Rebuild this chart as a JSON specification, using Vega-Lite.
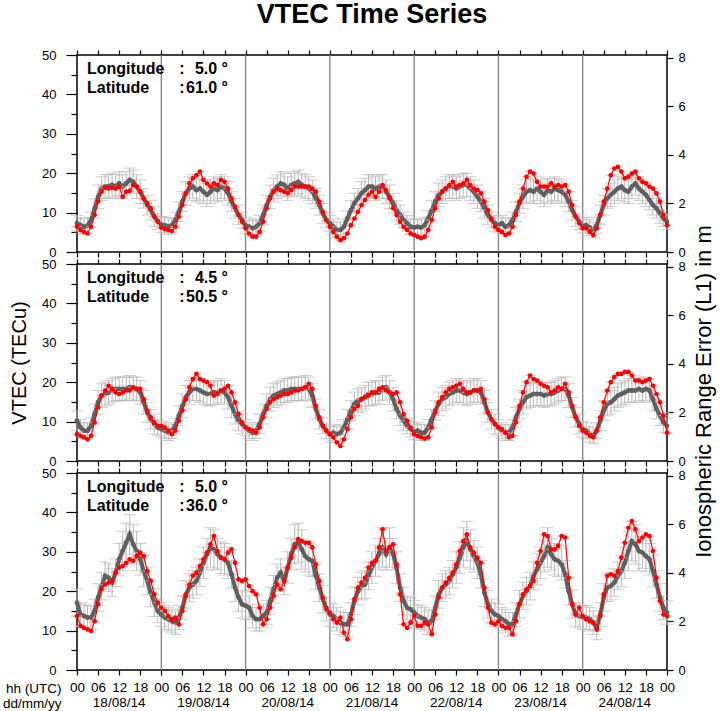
{
"$schema":"https://vega.github.io/schema/vega-lite/v6.json",
"padding":{"left":1,"right":2,"top":0,"bottom":0},
"spacing":12,
"bounds":"flush",
"config":{"view":{"stroke":"black","strokeWidth":1.5},"axis":{"labelFont":"Liberation Sans","labelFontSize":13,"labelColor":"black","tickColor":"black","tickWidth":1.2,"titleFont":"Liberation Sans","titleFontWeight":"normal","titleColor":"black","domain":false,"grid":false,"labelOverlap":false},"text":{"font":"Liberation Sans","color":"black"}},
"datasets":{
"days":[{"t":24},{"t":48},{"t":72},{"t":96},{"t":120},{"t":144}],
"dates":[{"t":12,"d":"18/08/14"},{"t":36,"d":"19/08/14"},{"t":60,"d":"20/08/14"},{"t":84,"d":"21/08/14"},{"t":108,"d":"22/08/14"},{"t":132,"d":"23/08/14"},{"t":156,"d":"24/08/14"}],
"A":[{"t":0,"g":7.3,"r":6.5,"e":2},{"t":1,"g":6.8,"r":5.6,"e":2},{"t":2,"g":6.4,"r":5.1,"e":2},{"t":3,"g":6.7,"r":4.7,"e":2},{"t":4,"g":8.1,"r":6.4,"e":2},{"t":5,"g":11,"r":9.4,"e":2.5},{"t":6,"g":14,"r":12.8,"e":3},{"t":7,"g":16.1,"r":15.3,"e":3},{"t":8,"g":16.6,"r":16.3,"e":3},{"t":9,"g":16.7,"r":16.1,"e":3},{"t":10,"g":17,"r":16.3,"e":3},{"t":11,"g":16.6,"r":16.1,"e":3},{"t":12,"g":17.4,"r":16.6,"e":3},{"t":13,"g":16.6,"r":14,"e":3},{"t":14,"g":17.4,"r":15.3,"e":3},{"t":15,"g":18.3,"r":15.5,"e":3},{"t":16,"g":17.8,"r":17,"e":3},{"t":17,"g":16.6,"r":16.6,"e":3},{"t":18,"g":15.3,"r":15.3,"e":3},{"t":19,"g":13.6,"r":13.6,"e":2.5},{"t":20,"g":11.9,"r":12.4,"e":2.5},{"t":21,"g":10.6,"r":11.1,"e":2.5},{"t":22,"g":9,"r":9,"e":2.5},{"t":23,"g":7.8,"r":7.7,"e":2},{"t":24,"g":7,"r":6.2,"e":2},{"t":25,"g":6.8,"r":5.8,"e":2},{"t":26,"g":6.4,"r":5.6,"e":2},{"t":27,"g":6.8,"r":5.3,"e":2},{"t":28,"g":8.1,"r":6.4,"e":2},{"t":29,"g":10.2,"r":9,"e":2.5},{"t":30,"g":12.8,"r":11.9,"e":2.5},{"t":31,"g":14.9,"r":14.9,"e":3},{"t":32,"g":16.1,"r":17.4,"e":3},{"t":33,"g":16.6,"r":18.7,"e":3},{"t":34,"g":15.7,"r":19.5,"e":3},{"t":35,"g":16.1,"r":20.4,"e":3},{"t":36,"g":15.3,"r":18.3,"e":3},{"t":37,"g":14.5,"r":17.4,"e":3},{"t":38,"g":15.3,"r":16.6,"e":3},{"t":39,"g":16.1,"r":17.4,"e":3},{"t":40,"g":15.7,"r":17,"e":3},{"t":41,"g":16.6,"r":18.3,"e":3},{"t":42,"g":16.1,"r":17.8,"e":3},{"t":43,"g":14.9,"r":16.1,"e":3},{"t":44,"g":12.8,"r":13.6,"e":2.5},{"t":45,"g":11.1,"r":11.5,"e":2.5},{"t":46,"g":9.4,"r":9.4,"e":2.5},{"t":47,"g":8.1,"r":7.7,"e":2},{"t":48,"g":6.8,"r":6,"e":2},{"t":49,"g":6.4,"r":4.7,"e":2},{"t":50,"g":6,"r":3.9,"e":2},{"t":51,"g":6.4,"r":3.9,"e":2},{"t":52,"g":7.3,"r":5.1,"e":2},{"t":53,"g":9.4,"r":7.7,"e":2.5},{"t":54,"g":11.9,"r":11.1,"e":2.5},{"t":55,"g":14,"r":13.6,"e":3},{"t":56,"g":15.7,"r":15.3,"e":3},{"t":57,"g":16.6,"r":16.1,"e":3},{"t":58,"g":17.4,"r":15.7,"e":3},{"t":59,"g":17,"r":15.3,"e":3},{"t":60,"g":16.1,"r":14.9,"e":3},{"t":61,"g":17,"r":15.7,"e":3},{"t":62,"g":17.4,"r":16.6,"e":3},{"t":63,"g":17.8,"r":16.6,"e":3},{"t":64,"g":17,"r":16.6,"e":3},{"t":65,"g":16.6,"r":16.6,"e":3},{"t":66,"g":16.1,"r":16.6,"e":3},{"t":67,"g":15.3,"r":16.1,"e":3},{"t":68,"g":13.6,"r":15.3,"e":2.5},{"t":69,"g":11.9,"r":12.8,"e":2.5},{"t":70,"g":9.8,"r":10.2,"e":2.5},{"t":71,"g":8.1,"r":8.1,"e":2},{"t":72,"g":7.3,"r":6.4,"e":2},{"t":73,"g":6.4,"r":5.1,"e":2},{"t":74,"g":5.6,"r":3.9,"e":2},{"t":75,"g":5.6,"r":3,"e":2},{"t":76,"g":6.4,"r":3.5,"e":2},{"t":77,"g":8.5,"r":4.7,"e":2},{"t":78,"g":10.6,"r":6.8,"e":2.5},{"t":79,"g":12.4,"r":8.5,"e":2.5},{"t":80,"g":13.6,"r":10.2,"e":2.5},{"t":81,"g":14.9,"r":11.9,"e":3},{"t":82,"g":15.7,"r":13.2,"e":3},{"t":83,"g":16.6,"r":14.5,"e":3},{"t":84,"g":16.6,"r":15.3,"e":3},{"t":85,"g":16.1,"r":14,"e":3},{"t":86,"g":16.6,"r":15.3,"e":3},{"t":87,"g":16.6,"r":17,"e":3},{"t":88,"g":15.3,"r":15.7,"e":3},{"t":89,"g":14,"r":13.6,"e":3},{"t":90,"g":12.4,"r":11.1,"e":2.5},{"t":91,"g":10.6,"r":9.4,"e":2.5},{"t":92,"g":9.4,"r":7.7,"e":2.5},{"t":93,"g":8.1,"r":6.4,"e":2},{"t":94,"g":7.3,"r":5.6,"e":2},{"t":95,"g":6.4,"r":4.7,"e":2},{"t":96,"g":6.2,"r":4.3,"e":2},{"t":97,"g":6.4,"r":3.9,"e":2},{"t":98,"g":6.2,"r":3.5,"e":2},{"t":99,"g":6.8,"r":3.9,"e":2},{"t":100,"g":8.5,"r":5.6,"e":2},{"t":101,"g":10.6,"r":8.1,"e":2.5},{"t":102,"g":12.8,"r":11.1,"e":2.5},{"t":103,"g":14.5,"r":13.6,"e":3},{"t":104,"g":15.3,"r":15.3,"e":3},{"t":105,"g":16.1,"r":16.1,"e":3},{"t":106,"g":16.6,"r":17,"e":3},{"t":107,"g":16.6,"r":17.8,"e":3},{"t":108,"g":16.1,"r":16.6,"e":3},{"t":109,"g":16.6,"r":17,"e":3},{"t":110,"g":17,"r":17.4,"e":3},{"t":111,"g":17,"r":18.3,"e":3},{"t":112,"g":16.1,"r":17,"e":3},{"t":113,"g":15.3,"r":16.1,"e":3},{"t":114,"g":14,"r":15.7,"e":3},{"t":115,"g":12.8,"r":14.9,"e":2.5},{"t":116,"g":11.1,"r":12.8,"e":2.5},{"t":117,"g":9.4,"r":10.6,"e":2.5},{"t":118,"g":8.1,"r":8.5,"e":2},{"t":119,"g":7.3,"r":6.4,"e":2},{"t":120,"g":6.8,"r":5.6,"e":2},{"t":121,"g":7.3,"r":5.1,"e":2},{"t":122,"g":6.4,"r":4.3,"e":2},{"t":123,"g":6.8,"r":4.7,"e":2},{"t":124,"g":8.1,"r":6.4,"e":2},{"t":125,"g":10.2,"r":9.4,"e":2.5},{"t":126,"g":12.4,"r":12.8,"e":2.5},{"t":127,"g":14,"r":16.1,"e":3},{"t":128,"g":15.3,"r":19.1,"e":3},{"t":129,"g":15.7,"r":20.4,"e":3},{"t":130,"g":15.3,"r":19.9,"e":3},{"t":131,"g":16.1,"r":17.8,"e":3},{"t":132,"g":15.3,"r":16.6,"e":3},{"t":133,"g":14.5,"r":16.6,"e":3},{"t":134,"g":15.7,"r":16.6,"e":3},{"t":135,"g":15.3,"r":17.4,"e":3},{"t":136,"g":16.1,"r":16.6,"e":3},{"t":137,"g":15.7,"r":17,"e":3},{"t":138,"g":15.3,"r":16.6,"e":3},{"t":139,"g":14.5,"r":17,"e":3},{"t":140,"g":12.8,"r":15.3,"e":2.5},{"t":141,"g":10.6,"r":11.9,"e":2.5},{"t":142,"g":9,"r":9,"e":2.5},{"t":143,"g":7.7,"r":7.3,"e":2},{"t":144,"g":6.8,"r":6,"e":2},{"t":145,"g":6.8,"r":6,"e":2},{"t":146,"g":6.2,"r":5.1,"e":2},{"t":147,"g":5.6,"r":4.3,"e":2},{"t":148,"g":6.8,"r":6,"e":2},{"t":149,"g":9.4,"r":9.4,"e":2.5},{"t":150,"g":11.9,"r":12.8,"e":2.5},{"t":151,"g":13.6,"r":16.1,"e":2.5},{"t":152,"g":14.5,"r":19.5,"e":3},{"t":153,"g":15.3,"r":21.2,"e":3},{"t":154,"g":16.1,"r":21.6,"e":3},{"t":155,"g":16.6,"r":20.4,"e":3},{"t":156,"g":15.7,"r":18.7,"e":3},{"t":157,"g":15.3,"r":19.1,"e":3},{"t":158,"g":16.6,"r":19.9,"e":3},{"t":159,"g":17.4,"r":20.4,"e":3},{"t":160,"g":16.1,"r":18.7,"e":3},{"t":161,"g":15.3,"r":17.8,"e":3},{"t":162,"g":14.5,"r":17.4,"e":3},{"t":163,"g":13.2,"r":16.6,"e":2.5},{"t":164,"g":11.9,"r":16.1,"e":2.5},{"t":165,"g":11.1,"r":14.9,"e":2.5},{"t":166,"g":9.8,"r":12.8,"e":2.5},{"t":167,"g":8.5,"r":9.4,"e":2},{"t":168,"g":7.7,"r":6.8,"e":2}],
"B":[{"t":0,"g":10.2,"r":6.8,"e":2.5},{"t":1,"g":8.5,"r":6.4,"e":2},{"t":2,"g":7.7,"r":6,"e":2},{"t":3,"g":7.7,"r":5.5,"e":2},{"t":4,"g":8.9,"r":6.4,"e":2},{"t":5,"g":11.9,"r":9.8,"e":2.5},{"t":6,"g":14.9,"r":13.6,"e":3},{"t":7,"g":16.6,"r":16.6,"e":3},{"t":8,"g":17,"r":17.9,"e":3},{"t":9,"g":17.4,"r":19.1,"e":3},{"t":10,"g":17.9,"r":18.3,"e":3},{"t":11,"g":18.3,"r":17.4,"e":3},{"t":12,"g":18.3,"r":17,"e":3},{"t":13,"g":18.3,"r":17.4,"e":3},{"t":14,"g":18.3,"r":17.9,"e":3},{"t":15,"g":18.7,"r":17.9,"e":3},{"t":16,"g":18.3,"r":18.7,"e":3},{"t":17,"g":18.3,"r":18.3,"e":3},{"t":18,"g":17.4,"r":18.3,"e":3},{"t":19,"g":14.9,"r":15.7,"e":3},{"t":20,"g":12.3,"r":12.8,"e":2.5},{"t":21,"g":10.6,"r":11.1,"e":2.5},{"t":22,"g":9.4,"r":9.8,"e":2.5},{"t":23,"g":8.5,"r":8.9,"e":2},{"t":24,"g":8.1,"r":8.9,"e":2},{"t":25,"g":7.7,"r":8.5,"e":2},{"t":26,"g":7.2,"r":7.7,"e":2},{"t":27,"g":7.7,"r":6.8,"e":2},{"t":28,"g":8.9,"r":7.7,"e":2},{"t":29,"g":11.5,"r":10.2,"e":2.5},{"t":30,"g":14,"r":12.8,"e":3},{"t":31,"g":16.2,"r":15.7,"e":3},{"t":32,"g":17.4,"r":18.7,"e":3},{"t":33,"g":18.3,"r":20.8,"e":3},{"t":34,"g":18.3,"r":22.1,"e":3},{"t":35,"g":17.9,"r":20.8,"e":3},{"t":36,"g":17.4,"r":20.4,"e":3},{"t":37,"g":17,"r":20,"e":3},{"t":38,"g":17,"r":19.1,"e":3},{"t":39,"g":17.4,"r":16.6,"e":3},{"t":40,"g":17.4,"r":17,"e":3},{"t":41,"g":17.9,"r":17.9,"e":3},{"t":42,"g":17.4,"r":18.3,"e":3},{"t":43,"g":16.2,"r":19.1,"e":3},{"t":44,"g":14,"r":17.4,"e":3},{"t":45,"g":11.9,"r":14.9,"e":2.5},{"t":46,"g":10.2,"r":11.9,"e":2.5},{"t":47,"g":9.4,"r":9.8,"e":2.5},{"t":48,"g":8.5,"r":8.5,"e":2},{"t":49,"g":7.7,"r":8.1,"e":2},{"t":50,"g":7.2,"r":7.7,"e":2},{"t":51,"g":7.7,"r":7.2,"e":2},{"t":52,"g":9.4,"r":8.5,"e":2.5},{"t":53,"g":11.9,"r":11.1,"e":2.5},{"t":54,"g":14,"r":13.2,"e":3},{"t":55,"g":15.7,"r":14.9,"e":3},{"t":56,"g":16.6,"r":15.7,"e":3},{"t":57,"g":17,"r":16.2,"e":3},{"t":58,"g":17.4,"r":16.6,"e":3},{"t":59,"g":17.9,"r":17,"e":3},{"t":60,"g":17.9,"r":17,"e":3},{"t":61,"g":18.3,"r":17.4,"e":3},{"t":62,"g":18.3,"r":17.9,"e":3},{"t":63,"g":18.3,"r":17.9,"e":3},{"t":64,"g":18.3,"r":18.3,"e":3},{"t":65,"g":18.7,"r":18.7,"e":3},{"t":66,"g":18.3,"r":19.6,"e":3},{"t":67,"g":16.6,"r":18.3,"e":3},{"t":68,"g":13.2,"r":14,"e":2.5},{"t":69,"g":10.6,"r":11.1,"e":2.5},{"t":70,"g":8.9,"r":8.9,"e":2},{"t":71,"g":7.7,"r":7.7,"e":2},{"t":72,"g":6.8,"r":6.8,"e":2},{"t":73,"g":7.2,"r":6,"e":2},{"t":74,"g":6.8,"r":4.7,"e":2},{"t":75,"g":7.2,"r":3.8,"e":2},{"t":76,"g":8.5,"r":5.5,"e":2},{"t":77,"g":10.6,"r":8.1,"e":2.5},{"t":78,"g":12.8,"r":11.1,"e":2.5},{"t":79,"g":14.5,"r":13.2,"e":3},{"t":80,"g":15.3,"r":14,"e":3},{"t":81,"g":15.7,"r":15.7,"e":3},{"t":82,"g":16.2,"r":16.2,"e":3},{"t":83,"g":17,"r":16.6,"e":3},{"t":84,"g":17,"r":17.4,"e":3},{"t":85,"g":17.4,"r":17.4,"e":3},{"t":86,"g":17.4,"r":18.3,"e":3},{"t":87,"g":18.3,"r":18.7,"e":3},{"t":88,"g":18.7,"r":17.9,"e":3},{"t":89,"g":17.4,"r":17.4,"e":3},{"t":90,"g":15.7,"r":17,"e":3},{"t":91,"g":13.2,"r":17.4,"e":2.5},{"t":92,"g":11.5,"r":14.9,"e":2.5},{"t":93,"g":10.2,"r":11.9,"e":2.5},{"t":94,"g":8.9,"r":10.2,"e":2},{"t":95,"g":8.1,"r":8.5,"e":2},{"t":96,"g":7.4,"r":6.8,"e":2},{"t":97,"g":7.7,"r":6.4,"e":2},{"t":98,"g":7.2,"r":6,"e":2},{"t":99,"g":7.2,"r":5.7,"e":2},{"t":100,"g":8.5,"r":6,"e":2},{"t":101,"g":10.6,"r":8.5,"e":2.5},{"t":102,"g":12.8,"r":12.3,"e":2.5},{"t":103,"g":14.5,"r":14.9,"e":3},{"t":104,"g":15.7,"r":16.2,"e":3},{"t":105,"g":16.2,"r":17.4,"e":3},{"t":106,"g":17,"r":18.3,"e":3},{"t":107,"g":17.4,"r":18.7,"e":3},{"t":108,"g":17.9,"r":19.1,"e":3},{"t":109,"g":17.9,"r":19.6,"e":3},{"t":110,"g":17.4,"r":18.3,"e":3},{"t":111,"g":17,"r":17.4,"e":3},{"t":112,"g":17.4,"r":17.4,"e":3},{"t":113,"g":17.9,"r":17.9,"e":3},{"t":114,"g":17.9,"r":17.9,"e":3},{"t":115,"g":17.4,"r":18.3,"e":3},{"t":116,"g":14.9,"r":15.7,"e":3},{"t":117,"g":12.3,"r":12.3,"e":2.5},{"t":118,"g":10.6,"r":10.6,"e":2.5},{"t":119,"g":9.4,"r":9.4,"e":2.5},{"t":120,"g":8.5,"r":8.5,"e":2},{"t":121,"g":7.7,"r":8.1,"e":2},{"t":122,"g":7.2,"r":7.2,"e":2},{"t":123,"g":7.2,"r":6,"e":2},{"t":124,"g":8.5,"r":6.4,"e":2},{"t":125,"g":11.1,"r":9.8,"e":2.5},{"t":126,"g":13.2,"r":14,"e":2.5},{"t":127,"g":14.9,"r":17.4,"e":3},{"t":128,"g":16.2,"r":20,"e":3},{"t":129,"g":16.6,"r":21.7,"e":3},{"t":130,"g":17,"r":20.8,"e":3},{"t":131,"g":17,"r":20.4,"e":3},{"t":132,"g":17,"r":19.6,"e":3},{"t":133,"g":16.6,"r":19.1,"e":3},{"t":134,"g":17,"r":18.7,"e":3},{"t":135,"g":17,"r":17.4,"e":3},{"t":136,"g":17.4,"r":17.9,"e":3},{"t":137,"g":17.9,"r":18.7,"e":3},{"t":138,"g":18.3,"r":18.3,"e":3},{"t":139,"g":18.3,"r":19.6,"e":3},{"t":140,"g":16.6,"r":17.4,"e":3},{"t":141,"g":13.6,"r":14,"e":2.5},{"t":142,"g":11.1,"r":11.1,"e":2.5},{"t":143,"g":9.4,"r":8.9,"e":2.5},{"t":144,"g":8.1,"r":7.7,"e":2},{"t":145,"g":7.7,"r":7.2,"e":2},{"t":146,"g":6.8,"r":6.4,"e":2},{"t":147,"g":6.4,"r":6,"e":2},{"t":148,"g":7.7,"r":7.7,"e":2},{"t":149,"g":10.2,"r":11.1,"e":2.5},{"t":150,"g":12.8,"r":14.9,"e":2.5},{"t":151,"g":14.5,"r":17.9,"e":3},{"t":152,"g":14.9,"r":20,"e":3},{"t":153,"g":15.7,"r":21.3,"e":3},{"t":154,"g":16.6,"r":22.1,"e":3},{"t":155,"g":17,"r":22.1,"e":3},{"t":156,"g":17.4,"r":22.6,"e":3},{"t":157,"g":17.9,"r":22.6,"e":3},{"t":158,"g":17.9,"r":21.7,"e":3},{"t":159,"g":17.9,"r":20.4,"e":3},{"t":160,"g":18.3,"r":20.4,"e":3},{"t":161,"g":17.9,"r":20,"e":3},{"t":162,"g":18.3,"r":20.4,"e":3},{"t":163,"g":17.9,"r":20.8,"e":3},{"t":164,"g":15.7,"r":19.1,"e":3},{"t":165,"g":13.2,"r":17,"e":2.5},{"t":166,"g":11.5,"r":14.9,"e":2.5},{"t":167,"g":9.8,"r":11.5,"e":2.5},{"t":168,"g":8.9,"r":7.2,"e":2}],
"C":[{"t":0,"g":17.1,"r":13.7,"e":3.5},{"t":1,"g":14.1,"r":11.2,"e":3},{"t":2,"g":13.7,"r":10.7,"e":3},{"t":3,"g":13.3,"r":10.3,"e":3},{"t":4,"g":13.3,"r":9.9,"e":3},{"t":5,"g":15,"r":12.4,"e":3},{"t":6,"g":18.4,"r":16.7,"e":3.5},{"t":7,"g":21.3,"r":20.5,"e":3.5},{"t":8,"g":23.9,"r":21.7,"e":3.5},{"t":9,"g":23.4,"r":22.2,"e":3.5},{"t":10,"g":22.2,"r":22.6,"e":3.5},{"t":11,"g":24.7,"r":24.7,"e":3.5},{"t":12,"g":28.1,"r":26,"e":4},{"t":13,"g":30.2,"r":26.4,"e":5},{"t":14,"g":32.3,"r":27.2,"e":5},{"t":15,"g":34.4,"r":28.1,"e":5},{"t":16,"g":31.9,"r":27.7,"e":5},{"t":17,"g":30.2,"r":28.9,"e":5},{"t":18,"g":28.1,"r":29.8,"e":4},{"t":19,"g":25.1,"r":28.9,"e":4},{"t":20,"g":22.6,"r":25.1,"e":3.5},{"t":21,"g":19.6,"r":22.6,"e":3.5},{"t":22,"g":17.1,"r":19.2,"e":3.5},{"t":23,"g":15,"r":17.1,"e":3},{"t":24,"g":14.1,"r":15.8,"e":3},{"t":25,"g":13.3,"r":15,"e":3},{"t":26,"g":12.9,"r":13.7,"e":3},{"t":27,"g":12.4,"r":12.9,"e":3},{"t":28,"g":12,"r":13.3,"e":3},{"t":29,"g":13.3,"r":11.6,"e":3},{"t":30,"g":15.8,"r":15,"e":3},{"t":31,"g":19.2,"r":18.8,"e":3.5},{"t":32,"g":20.9,"r":21.7,"e":3.5},{"t":33,"g":21.7,"r":23.9,"e":3.5},{"t":34,"g":22.6,"r":24.7,"e":3.5},{"t":35,"g":24.7,"r":26.4,"e":3.5},{"t":36,"g":27.2,"r":28.1,"e":4},{"t":37,"g":29.4,"r":29.8,"e":4},{"t":38,"g":31.1,"r":31.9,"e":5},{"t":39,"g":30.6,"r":34,"e":5},{"t":40,"g":29.4,"r":30.2,"e":4},{"t":41,"g":28.5,"r":28.5,"e":4},{"t":42,"g":28.1,"r":28.1,"e":4},{"t":43,"g":27.2,"r":29.8,"e":4},{"t":44,"g":24.3,"r":30.6,"e":3.5},{"t":45,"g":20.9,"r":27.2,"e":3.5},{"t":46,"g":18.4,"r":23,"e":3.5},{"t":47,"g":16.7,"r":22.6,"e":3.5},{"t":48,"g":16.3,"r":23,"e":3.5},{"t":49,"g":15.8,"r":21.3,"e":3},{"t":50,"g":13.7,"r":20,"e":3},{"t":51,"g":12.9,"r":19.2,"e":3},{"t":52,"g":12.9,"r":15.8,"e":3},{"t":53,"g":13.7,"r":11.6,"e":3},{"t":54,"g":14.6,"r":12.9,"e":3},{"t":55,"g":17.5,"r":15.8,"e":3.5},{"t":56,"g":20.5,"r":18.8,"e":3.5},{"t":57,"g":23.4,"r":21.7,"e":3.5},{"t":58,"g":24.7,"r":20.5,"e":3.5},{"t":59,"g":22.6,"r":22.6,"e":3.5},{"t":60,"g":26,"r":26,"e":4},{"t":61,"g":29.4,"r":28.5,"e":4},{"t":62,"g":31.9,"r":31.1,"e":5},{"t":63,"g":32.3,"r":33.2,"e":5},{"t":64,"g":30.6,"r":32.7,"e":5},{"t":65,"g":28.9,"r":32.3,"e":4},{"t":66,"g":28.1,"r":32.3,"e":4},{"t":67,"g":27.7,"r":31.1,"e":4},{"t":68,"g":23.9,"r":26.8,"e":3.5},{"t":69,"g":20.9,"r":22.6,"e":3.5},{"t":70,"g":18,"r":18.4,"e":3.5},{"t":71,"g":15.4,"r":15.8,"e":3},{"t":72,"g":14.1,"r":14.6,"e":3},{"t":73,"g":13.7,"r":12.9,"e":3},{"t":74,"g":12.9,"r":12,"e":3},{"t":75,"g":12,"r":13.3,"e":3},{"t":76,"g":11.6,"r":9.5,"e":3},{"t":77,"g":11.6,"r":7.8,"e":3},{"t":78,"g":14.1,"r":12.9,"e":3},{"t":79,"g":17.5,"r":18,"e":3.5},{"t":80,"g":20,"r":20.9,"e":3.5},{"t":81,"g":21.3,"r":22.2,"e":3.5},{"t":82,"g":21.7,"r":23.4,"e":3.5},{"t":83,"g":23.9,"r":26,"e":3.5},{"t":84,"g":26,"r":27.2,"e":4},{"t":85,"g":27.7,"r":27.7,"e":4},{"t":86,"g":29.4,"r":31.1,"e":4},{"t":87,"g":31.1,"r":35.7,"e":5},{"t":88,"g":29.4,"r":30.2,"e":4},{"t":89,"g":31.1,"r":31.1,"e":5},{"t":90,"g":29.4,"r":31.9,"e":4},{"t":91,"g":26,"r":26.8,"e":4},{"t":92,"g":20.9,"r":19.2,"e":3.5},{"t":93,"g":17.5,"r":11.6,"e":3.5},{"t":94,"g":15.8,"r":10.7,"e":3},{"t":95,"g":15.4,"r":12,"e":3},{"t":96,"g":14.6,"r":13.7,"e":3},{"t":97,"g":13.7,"r":11.2,"e":3},{"t":98,"g":13.3,"r":11.2,"e":3},{"t":99,"g":12.9,"r":12,"e":3},{"t":100,"g":12,"r":11.6,"e":3},{"t":101,"g":12.4,"r":9.1,"e":3},{"t":102,"g":15.8,"r":14.1,"e":3},{"t":103,"g":19.2,"r":18.4,"e":3.5},{"t":104,"g":20.9,"r":20.9,"e":3.5},{"t":105,"g":21.7,"r":22.2,"e":3.5},{"t":106,"g":22.6,"r":23.4,"e":3.5},{"t":107,"g":24.3,"r":24.7,"e":3.5},{"t":108,"g":26,"r":26.8,"e":4},{"t":109,"g":28.5,"r":30.2,"e":4},{"t":110,"g":31.1,"r":32.7,"e":5},{"t":111,"g":32.7,"r":34.4,"e":5},{"t":112,"g":30.6,"r":31.1,"e":5},{"t":113,"g":28.9,"r":29.8,"e":4},{"t":114,"g":27.2,"r":28.5,"e":4},{"t":115,"g":24.3,"r":27.2,"e":3.5},{"t":116,"g":19.6,"r":20.9,"e":3.5},{"t":117,"g":16.7,"r":15.8,"e":3.5},{"t":118,"g":15,"r":12,"e":3},{"t":119,"g":14.1,"r":11.6,"e":3},{"t":120,"g":13.7,"r":12.4,"e":3},{"t":121,"g":12.9,"r":11.2,"e":3},{"t":122,"g":12.4,"r":10.7,"e":3},{"t":123,"g":11.6,"r":10.7,"e":3},{"t":124,"g":11.6,"r":9.1,"e":3},{"t":125,"g":14.1,"r":12.4,"e":3},{"t":126,"g":16.7,"r":16.7,"e":3.5},{"t":127,"g":18.8,"r":19.2,"e":3.5},{"t":128,"g":20,"r":20.5,"e":3.5},{"t":129,"g":21.3,"r":21.3,"e":3.5},{"t":130,"g":23.9,"r":22.6,"e":3.5},{"t":131,"g":25.6,"r":27.2,"e":4},{"t":132,"g":27.2,"r":30.2,"e":4},{"t":133,"g":28.9,"r":34.4,"e":4},{"t":134,"g":31.1,"r":34,"e":5},{"t":135,"g":29.4,"r":30.6,"e":4},{"t":136,"g":28.1,"r":30.6,"e":4},{"t":137,"g":27.7,"r":31.5,"e":4},{"t":138,"g":26.8,"r":34,"e":4},{"t":139,"g":24.3,"r":33.6,"e":3.5},{"t":140,"g":20,"r":23.4,"e":3.5},{"t":141,"g":16.7,"r":16.7,"e":3.5},{"t":142,"g":14.1,"r":14.1,"e":3},{"t":143,"g":13.7,"r":15.8,"e":3},{"t":144,"g":13.3,"r":13.7,"e":3},{"t":145,"g":13.3,"r":12.9,"e":3},{"t":146,"g":12.9,"r":12.4,"e":3},{"t":147,"g":12,"r":12,"e":3},{"t":148,"g":10.7,"r":10.3,"e":3},{"t":149,"g":14.1,"r":13.7,"e":3},{"t":150,"g":18.4,"r":19.2,"e":3.5},{"t":151,"g":20.9,"r":23.9,"e":3.5},{"t":152,"g":21.3,"r":24.3,"e":3.5},{"t":153,"g":22.2,"r":23.9,"e":3.5},{"t":154,"g":23.9,"r":25.1,"e":3.5},{"t":155,"g":25.1,"r":28.5,"e":4},{"t":156,"g":27.2,"r":32.3,"e":4},{"t":157,"g":30.2,"r":36.1,"e":5},{"t":158,"g":32.7,"r":37.8,"e":5},{"t":159,"g":31.9,"r":35.7,"e":5},{"t":160,"g":30.2,"r":32.7,"e":5},{"t":161,"g":29.8,"r":33.6,"e":4},{"t":162,"g":28.9,"r":34.4,"e":4},{"t":163,"g":28.1,"r":34,"e":4},{"t":164,"g":25.1,"r":30.2,"e":4},{"t":165,"g":21.7,"r":23.4,"e":3.5},{"t":166,"g":18.4,"r":17.5,"e":3.5},{"t":167,"g":15.8,"r":14.1,"e":3},{"t":168,"g":14.6,"r":13.7,"e":3}]
},
"vconcat":[
{"width":590,"height":197,
"title":{"text":"VTEC Time Series","fontSize":27,"fontWeight":"bold","font":"Liberation Sans","color":"black","offset":20,"anchor":"middle","frame":"group"},
"resolve":{"scale":{"y":"independent"},"axis":{"x":"independent","y":"independent"}},
"layer":[
{"layer":[
{"data":{"name":"days"},"mark":{"type":"rule","color":"#808080","strokeWidth":1.3},"encoding":{"x":{"field":"t","type":"quantitative","scale":{"domain":[0,168],"nice":false},"axis":null}}},
{"data":{"name":"A"},"mark":{"type":"errorbar","ticks":{"size":12},"color":"#b8b8b8"},"encoding":{"x":{"field":"t","type":"quantitative","axis":null},"y":{"field":"g","type":"quantitative","scale":{"domain":[0,50],"nice":false},"axis":null},"yError":{"field":"e"}}},
{"data":{"name":"A"},"mark":{"type":"line","color":"#606060","strokeWidth":4,"point":{"filled":true,"size":24,"color":"#606060"}},"encoding":{"x":{"field":"t","type":"quantitative","axis":null},"y":{"field":"g","type":"quantitative","axis":null}}},
{"data":{"name":"A"},"mark":{"type":"tick","orient":"horizontal","size":10,"thickness":1.3,"color":"#ff9c9c"},"encoding":{"x":{"field":"t","type":"quantitative","axis":null},"y":{"field":"r","type":"quantitative","axis":null}}},
{"data":{"name":"A"},"mark":{"type":"line","color":"#ff0000","strokeWidth":1.2,"point":{"filled":true,"size":22,"color":"#ff0000"}},"encoding":{"x":{"field":"t","type":"quantitative","axis":null},"y":{"field":"r","type":"quantitative","axis":null}}},
{"data":{"values":[{}]},"mark":{"type":"text","align":"left","baseline":"alphabetic","fontWeight":"bold","fontSize":16,"text":"Longitude"},"encoding":{"x":{"datum":2.85,"axis":null},"y":{"datum":45.3,"axis":null}}},
{"data":{"values":[{}]},"mark":{"type":"text","align":"left","baseline":"alphabetic","fontWeight":"bold","fontSize":16,"text":"Latitude"},"encoding":{"x":{"datum":2.85,"axis":null},"y":{"datum":40.3,"axis":null}}},
{"data":{"values":[{}]},"mark":{"type":"text","align":"center","baseline":"alphabetic","fontWeight":"bold","fontSize":16,"text":":"},"encoding":{"x":{"datum":29.9,"axis":null},"y":{"datum":45.3,"axis":null}}},
{"data":{"values":[{}]},"mark":{"type":"text","align":"center","baseline":"alphabetic","fontWeight":"bold","fontSize":16,"text":":"},"encoding":{"x":{"datum":29.9,"axis":null},"y":{"datum":40.3,"axis":null}}},
{"data":{"values":[{}]},"mark":{"type":"text","align":"right","baseline":"alphabetic","fontWeight":"bold","fontSize":16,"text":"5.0 °"},"encoding":{"x":{"datum":43,"axis":null},"y":{"datum":45.3,"axis":null}}},
{"data":{"values":[{}]},"mark":{"type":"text","align":"right","baseline":"alphabetic","fontWeight":"bold","fontSize":16,"text":"61.0 °"},"encoding":{"x":{"datum":43,"axis":null},"y":{"datum":40.3,"axis":null}}}
]},
{"data":{"values":[{}]},"mark":{"type":"point","opacity":0},"encoding":{"x":{"datum":0,"type":"quantitative","axis":{"orient":"bottom","values":[0,6,12,18,24,30,36,42,48,54,60,66,72,78,84,90,96,102,108,114,120,126,132,138,144,150,156,162,168],"labels":false,"tickSize":5,"title":null}},"y":{"datum":0,"type":"quantitative","scale":{"domain":[0,50],"nice":false},"axis":{"orient":"left","values":[0,10,20,30,40,50],"tickSize":11,"labelPadding":10,"labelOverlap":false,"title":null}}}},
{"data":{"values":[{}]},"mark":{"type":"point","opacity":0},"encoding":{"y":{"datum":0,"type":"quantitative","scale":{"domain":[0,50],"nice":false},"axis":{"orient":"left","values":[5,15,25,35,45],"labels":false,"tickSize":6,"title":null}}}},
{"data":{"values":[{}]},"mark":{"type":"point","opacity":0},"encoding":{"x":{"datum":0,"type":"quantitative","axis":{"orient":"top","values":[0,6,12,18,24,30,36,42,48,54,60,66,72,78,84,90,96,102,108,114,120,126,132,138,144,150,156,162,168],"labels":false,"tickSize":5,"title":null}},"y":{"datum":0,"type":"quantitative","scale":{"domain":[0,8.12],"nice":false},"axis":{"orient":"right","values":[0,2,4,6,8],"tickSize":6,"labelPadding":5,"title":null}}}}
]},
{"width":590,"height":197,
"resolve":{"scale":{"y":"independent"},"axis":{"x":"independent","y":"independent"}},
"layer":[
{"layer":[
{"data":{"name":"days"},"mark":{"type":"rule","color":"#808080","strokeWidth":1.3},"encoding":{"x":{"field":"t","type":"quantitative","scale":{"domain":[0,168],"nice":false},"axis":null}}},
{"data":{"name":"B"},"mark":{"type":"errorbar","ticks":{"size":12},"color":"#b8b8b8"},"encoding":{"x":{"field":"t","type":"quantitative","axis":null},"y":{"field":"g","type":"quantitative","scale":{"domain":[0,50],"nice":false},"axis":null},"yError":{"field":"e"}}},
{"data":{"name":"B"},"mark":{"type":"line","color":"#606060","strokeWidth":4,"point":{"filled":true,"size":24,"color":"#606060"}},"encoding":{"x":{"field":"t","type":"quantitative","axis":null},"y":{"field":"g","type":"quantitative","axis":null}}},
{"data":{"name":"B"},"mark":{"type":"tick","orient":"horizontal","size":10,"thickness":1.3,"color":"#ff9c9c"},"encoding":{"x":{"field":"t","type":"quantitative","axis":null},"y":{"field":"r","type":"quantitative","axis":null}}},
{"data":{"name":"B"},"mark":{"type":"line","color":"#ff0000","strokeWidth":1.2,"point":{"filled":true,"size":22,"color":"#ff0000"}},"encoding":{"x":{"field":"t","type":"quantitative","axis":null},"y":{"field":"r","type":"quantitative","axis":null}}},
{"data":{"values":[{}]},"mark":{"type":"text","align":"left","baseline":"alphabetic","fontWeight":"bold","fontSize":16,"text":"Longitude"},"encoding":{"x":{"datum":2.85,"axis":null},"y":{"datum":45.3,"axis":null}}},
{"data":{"values":[{}]},"mark":{"type":"text","align":"left","baseline":"alphabetic","fontWeight":"bold","fontSize":16,"text":"Latitude"},"encoding":{"x":{"datum":2.85,"axis":null},"y":{"datum":40.3,"axis":null}}},
{"data":{"values":[{}]},"mark":{"type":"text","align":"center","baseline":"alphabetic","fontWeight":"bold","fontSize":16,"text":":"},"encoding":{"x":{"datum":29.9,"axis":null},"y":{"datum":45.3,"axis":null}}},
{"data":{"values":[{}]},"mark":{"type":"text","align":"center","baseline":"alphabetic","fontWeight":"bold","fontSize":16,"text":":"},"encoding":{"x":{"datum":29.9,"axis":null},"y":{"datum":40.3,"axis":null}}},
{"data":{"values":[{}]},"mark":{"type":"text","align":"right","baseline":"alphabetic","fontWeight":"bold","fontSize":16,"text":"4.5 °"},"encoding":{"x":{"datum":43,"axis":null},"y":{"datum":45.3,"axis":null}}},
{"data":{"values":[{}]},"mark":{"type":"text","align":"right","baseline":"alphabetic","fontWeight":"bold","fontSize":16,"text":"50.5 °"},"encoding":{"x":{"datum":43,"axis":null},"y":{"datum":40.3,"axis":null}}}
]},
{"data":{"values":[{}]},"mark":{"type":"point","opacity":0},"encoding":{"x":{"datum":0,"type":"quantitative","axis":{"orient":"bottom","values":[0,6,12,18,24,30,36,42,48,54,60,66,72,78,84,90,96,102,108,114,120,126,132,138,144,150,156,162,168],"labels":false,"tickSize":5,"title":null}},"y":{"datum":0,"type":"quantitative","scale":{"domain":[0,50],"nice":false},"axis":{"orient":"left","values":[0,10,20,30,40,50],"tickSize":11,"labelPadding":10,"labelOverlap":false,"title":"VTEC (TECu)","titleFontSize":20,"titlePadding":12}}}},
{"data":{"values":[{}]},"mark":{"type":"point","opacity":0},"encoding":{"y":{"datum":0,"type":"quantitative","scale":{"domain":[0,50],"nice":false},"axis":{"orient":"left","values":[5,15,25,35,45],"labels":false,"tickSize":6,"title":null}}}},
{"data":{"values":[{}]},"mark":{"type":"point","opacity":0},"encoding":{"x":{"datum":0,"type":"quantitative","axis":{"orient":"top","values":[0,6,12,18,24,30,36,42,48,54,60,66,72,78,84,90,96,102,108,114,120,126,132,138,144,150,156,162,168],"labels":false,"tickSize":5,"title":null}},"y":{"datum":0,"type":"quantitative","scale":{"domain":[0,8.12],"nice":false},"axis":{"orient":"right","values":[0,2,4,6,8],"tickSize":6,"labelPadding":5,"title":"Ionospheric Range Error (L1) in m","titleFontSize":22,"titlePadding":8,"titleAngle":270,"titleBaseline":"top","titleY":127}}}}
]},
{"width":590,"height":197,
"resolve":{"scale":{"y":"independent"},"axis":{"x":"independent","y":"independent"}},
"layer":[
{"layer":[
{"data":{"name":"days"},"mark":{"type":"rule","color":"#808080","strokeWidth":1.3},"encoding":{"x":{"field":"t","type":"quantitative","scale":{"domain":[0,168],"nice":false},"axis":null}}},
{"data":{"name":"dates"},"mark":{"type":"text","baseline":"middle","align":"center","fontSize":13.5},"encoding":{"x":{"field":"t","type":"quantitative","axis":null},"y":{"datum":-8.5,"axis":null},"text":{"field":"d"}}},
{"data":{"name":"C"},"mark":{"type":"errorbar","ticks":{"size":12},"color":"#b8b8b8"},"encoding":{"x":{"field":"t","type":"quantitative","axis":null},"y":{"field":"g","type":"quantitative","scale":{"domain":[0,50],"nice":false},"axis":null},"yError":{"field":"e"}}},
{"data":{"name":"C"},"mark":{"type":"line","color":"#606060","strokeWidth":4,"point":{"filled":true,"size":24,"color":"#606060"}},"encoding":{"x":{"field":"t","type":"quantitative","axis":null},"y":{"field":"g","type":"quantitative","axis":null}}},
{"data":{"name":"C"},"mark":{"type":"tick","orient":"horizontal","size":10,"thickness":1.3,"color":"#ff9c9c"},"encoding":{"x":{"field":"t","type":"quantitative","axis":null},"y":{"field":"r","type":"quantitative","axis":null}}},
{"data":{"name":"C"},"mark":{"type":"line","color":"#ff0000","strokeWidth":1.2,"point":{"filled":true,"size":22,"color":"#ff0000"}},"encoding":{"x":{"field":"t","type":"quantitative","axis":null},"y":{"field":"r","type":"quantitative","axis":null}}},
{"data":{"values":[{}]},"mark":{"type":"text","align":"left","baseline":"alphabetic","fontWeight":"bold","fontSize":16,"text":"Longitude"},"encoding":{"x":{"datum":2.85,"axis":null},"y":{"datum":45.3,"axis":null}}},
{"data":{"values":[{}]},"mark":{"type":"text","align":"left","baseline":"alphabetic","fontWeight":"bold","fontSize":16,"text":"Latitude"},"encoding":{"x":{"datum":2.85,"axis":null},"y":{"datum":40.3,"axis":null}}},
{"data":{"values":[{}]},"mark":{"type":"text","align":"center","baseline":"alphabetic","fontWeight":"bold","fontSize":16,"text":":"},"encoding":{"x":{"datum":29.9,"axis":null},"y":{"datum":45.3,"axis":null}}},
{"data":{"values":[{}]},"mark":{"type":"text","align":"center","baseline":"alphabetic","fontWeight":"bold","fontSize":16,"text":":"},"encoding":{"x":{"datum":29.9,"axis":null},"y":{"datum":40.3,"axis":null}}},
{"data":{"values":[{}]},"mark":{"type":"text","align":"right","baseline":"alphabetic","fontWeight":"bold","fontSize":16,"text":"5.0 °"},"encoding":{"x":{"datum":43,"axis":null},"y":{"datum":45.3,"axis":null}}},
{"data":{"values":[{}]},"mark":{"type":"text","align":"right","baseline":"alphabetic","fontWeight":"bold","fontSize":16,"text":"36.0 °"},"encoding":{"x":{"datum":43,"axis":null},"y":{"datum":40.3,"axis":null}}}
]},
{"data":{"values":[{}]},"mark":{"type":"point","opacity":0},"encoding":{"x":{"datum":0,"type":"quantitative","axis":{"orient":"bottom","values":[0,6,12,18,24,30,36,42,48,54,60,66,72,78,84,90,96,102,108,114,120,126,132,138,144,150,156,162,168],"labelExpr":"(datum.value % 24 < 10 ? '0' : '') + (datum.value % 24)","labelFontSize":13.5,"labelPadding":5,"labelBaseline":"top","labelOverlap":false,"tickSize":5,"labelFlush":false,"title":["hh (UTC)","dd/mm/yy"],"titleFontSize":13.5,"titleLineHeight":15,"titleAlign":"right","titleAnchor":"start","titleBaseline":"top","titleX":-16,"titleY":11}},"y":{"datum":0,"type":"quantitative","scale":{"domain":[0,50],"nice":false},"axis":{"orient":"left","values":[0,10,20,30,40,50],"tickSize":11,"labelPadding":10,"labelOverlap":false,"title":null}}}},
{"data":{"values":[{}]},"mark":{"type":"point","opacity":0},"encoding":{"y":{"datum":0,"type":"quantitative","scale":{"domain":[0,50],"nice":false},"axis":{"orient":"left","values":[5,15,25,35,45],"labels":false,"tickSize":6,"title":null}}}},
{"data":{"values":[{}]},"mark":{"type":"point","opacity":0},"encoding":{"x":{"datum":0,"type":"quantitative","axis":{"orient":"top","values":[0,6,12,18,24,30,36,42,48,54,60,66,72,78,84,90,96,102,108,114,120,126,132,138,144,150,156,162,168],"labels":false,"tickSize":5,"title":null}},"y":{"datum":0,"type":"quantitative","scale":{"domain":[0,8.12],"nice":false},"axis":{"orient":"right","values":[0,2,4,6,8],"tickSize":6,"labelPadding":5,"title":null}}}}
]}
]
}
